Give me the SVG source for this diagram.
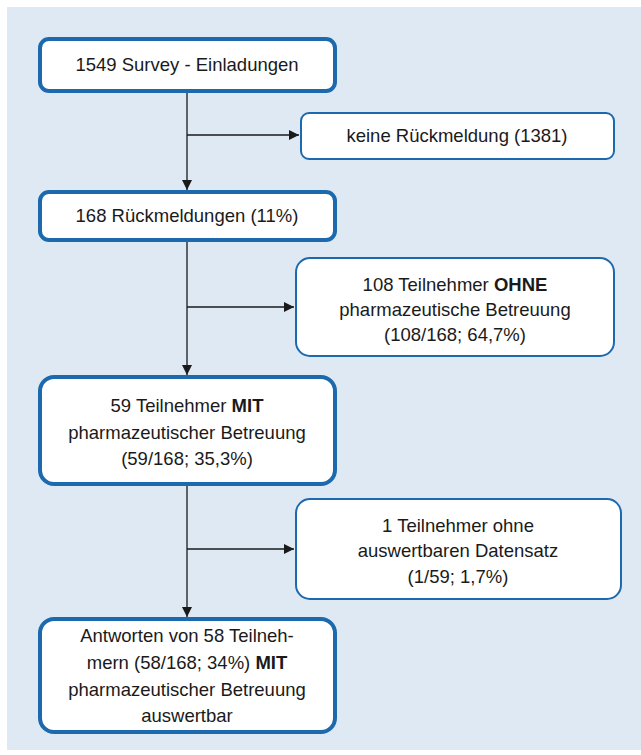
<svg xmlns="http://www.w3.org/2000/svg" width="641" height="755" viewBox="0 0 641 755">
<style>
.bg{fill:#dfe9f4}
.main{fill:#fff;stroke:#1d69ae;stroke-width:4}
.side{fill:#fff;stroke:#1d69ae;stroke-width:2}
text{font-family:"Liberation Sans",Arial,sans-serif;font-size:18.5px;fill:#1a1a1a;text-anchor:middle}
.b{font-weight:bold}
.c{stroke:#1a1a1a;stroke-width:1.3;fill:none}
</style>
<defs>
<marker id="ah" markerWidth="10" markerHeight="10" refX="10" refY="5" orient="auto" markerUnits="userSpaceOnUse">
<path d="M0,0 L10,5 L0,10 Z" fill="#1a1a1a"/>
</marker>
</defs>
<rect class="bg" x="7" y="7" width="634" height="743"/>
<g id="connectors">
<path class="c" d="M187,92 V190" marker-end="url(#ah)"/>
<path class="c" d="M187,135 H299" marker-end="url(#ah)"/>
<path class="c" d="M187,241 V375" marker-end="url(#ah)"/>
<path class="c" d="M187,307 H294" marker-end="url(#ah)"/>
<path class="c" d="M187,485 V617" marker-end="url(#ah)"/>
<path class="c" d="M187,549 H294" marker-end="url(#ah)"/>
</g>
<g id="n1">
<rect class="main" x="40" y="39" width="295" height="52" rx="9"/>
<text x="187" y="71">1549 Survey - Einladungen</text>
</g>
<g id="n2">
<rect class="side" x="301" y="113" width="313" height="46" rx="8"/>
<text x="457" y="142">keine Rückmeldung (1381)</text>
</g>
<g id="n3">
<rect class="main" x="40" y="192" width="295" height="48" rx="9"/>
<text x="187" y="222">168 Rückmeldungen (11%)</text>
</g>
<g id="n4">
<rect class="side" x="296" y="258" width="318" height="98" rx="14"/>
<text x="455" y="291">108 Teilnehmer <tspan class="b">OHNE</tspan></text>
<text x="455" y="316">pharmazeutische Betreuung</text>
<text x="455" y="341">(108/168; 64,7%)</text>
</g>
<g id="n5">
<rect class="main" x="40" y="377" width="295" height="107" rx="14"/>
<text x="187" y="412">59 Teilnehmer <tspan class="b">MIT</tspan></text>
<text x="187" y="439">pharmazeutischer Betreuung</text>
<text x="187" y="465">(59/168; 35,3%)</text>
</g>
<g id="n6">
<rect class="side" x="296" y="499" width="325" height="100" rx="14"/>
<text x="458" y="532">1 Teilnehmer ohne</text>
<text x="458" y="557">auswertbaren Datensatz</text>
<text x="458" y="583">(1/59; 1,7%)</text>
</g>
<g id="n7">
<rect class="main" x="40" y="619" width="295" height="113" rx="14"/>
<text x="187" y="642">Antworten von 58 Teilneh-</text>
<text x="187" y="669">mern (58/168; 34%) <tspan class="b">MIT</tspan></text>
<text x="187" y="696">pharmazeutischer Betreuung</text>
<text x="187" y="722">auswertbar</text>
</g>
</svg>
